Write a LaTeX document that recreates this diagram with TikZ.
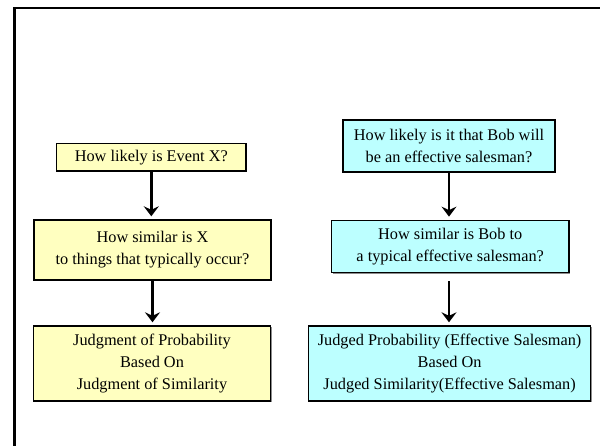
\documentclass[tikz,border=0pt]{standalone}
\usepackage{fontspec}
\setmainfont{Liberation Serif}
\usetikzlibrary{arrows.meta,shadows}
\definecolor{boxyellow}{RGB}{255,255,192}
\definecolor{boxcyan}{RGB}{188,255,255}
\tikzset{
  flowbox/.style={draw=black, line width=1.4pt, align=center, inner sep=0pt,
    font=\fontsize{16.3}{22}\selectfont,
    drop shadow={shadow xshift=1.2pt, shadow yshift=-1.2pt, fill=black!45, opacity=1}},
  ybox/.style={flowbox, fill=boxyellow},
  cbox/.style={flowbox, fill=boxcyan},
  flowarrow/.style={line width=2.4pt, -{Stealth[length=10pt,width=15pt,inset=3.5pt]}, shorten >=3pt},
  framepath/.style={line width=2.6pt, draw=black}
}
\begin{document}
\begin{tikzpicture}[x=1pt,y=-1pt]
\useasboundingbox (0,0) rectangle (600,445);
\fill[white] (0,0) rectangle (600,445);
\coordinate (f1) at (14.5,446);
\coordinate (f2) at (14.5,8);
\coordinate (f3) at (601,8);
\draw[framepath] (f1) -- (f2) -- (f3);
% left column
\node[ybox, minimum width=189.4pt, minimum height=27.7pt] (A) at (151.3,157.2) {How likely is Event X?};
\node[ybox, minimum width=237pt, minimum height=60pt] (B) at (152.5,250) {How similar is X\\to things that typically occur?};
\node[ybox, minimum width=237.3pt, minimum height=75pt] (C) at (152,363.5) {Judgment of Probability\\Based On\\Judgment of Similarity};
% right column
\node[cbox, minimum width=212pt, minimum height=52pt] (D) at (449,146) {How likely is it that Bob will\\be an effective salesman?};
\node[cbox, minimum width=237.6pt, minimum height=52.4pt] (E) at (450.2,246.5) {How similar is Bob to\\a typical effective salesman?};
\node[cbox, minimum width=281.7pt, minimum height=75pt] (F) at (449.6,363.5) {Judged Probability (Effective Salesman)\\Based On\\Judged Similarity(Effective Salesman)};
% arrows
\draw[flowarrow] (A.south) -- (A.south |- B.north);
\draw[flowarrow] (B.south) -- (B.south |- C.north);
\draw[flowarrow] (D.south) -- (D.south |- E.north);
\draw[flowarrow, shorten <=8pt] (D.south |- E.south) -- (D.south |- F.north);
\end{tikzpicture}
\end{document}
